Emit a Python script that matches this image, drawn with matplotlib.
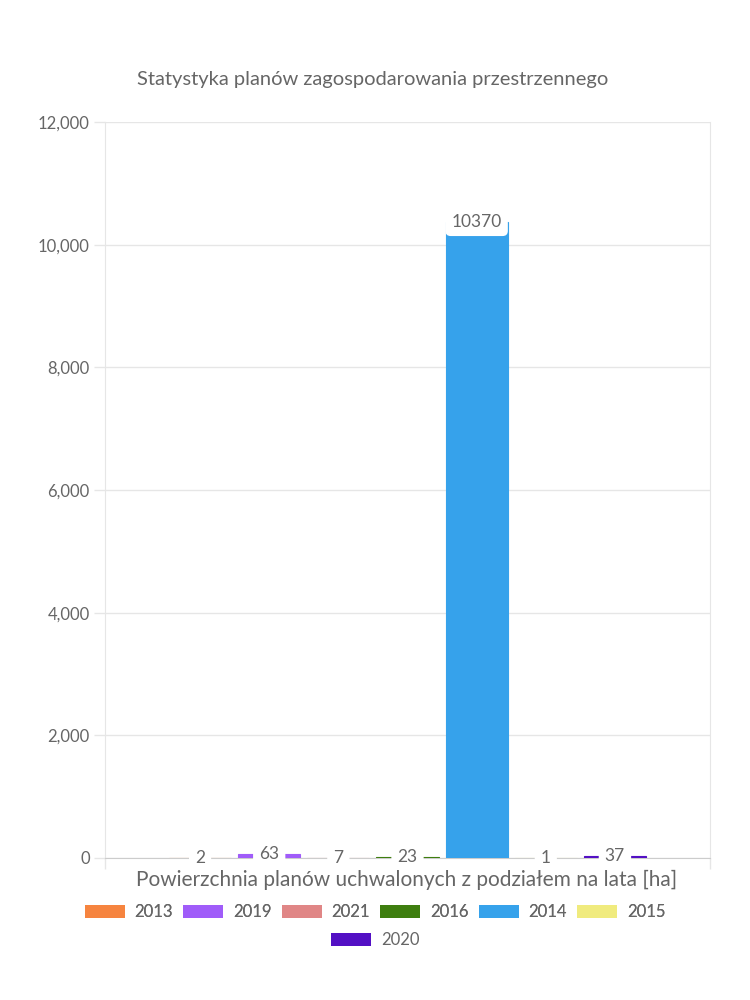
import numpy as np
import matplotlib
matplotlib.use("Agg")
import matplotlib.pyplot as plt
from matplotlib.patches import Patch
from matplotlib.ticker import FuncFormatter

# data
years = ["2013", "2019", "2021", "2016", "2014", "2015", "2020"]
values = [2, 63, 7, 23, 10370, 1, 37]
colors = ["#f6843f", "#a05cf9", "#e08686", "#3e7e0f", "#36a2eb", "#f0eb7e", "#5310c4"]
title = "Statystyka planów zagospodarowania przestrzennego"
xlabel = "Powierzchnia planów uchwalonych z podziałem na lata [ha]"
yticks = [0, 2000, 4000, 6000, 8000, 10000, 12000]

plt.rcParams["font.family"] = ["Lato", "DejaVu Sans"]
txt = "#666666"
grid = "#e6e6e6"

fig = plt.figure(figsize=(7.5, 10), dpi=100)
ax = fig.add_axes([105 / 750, 1 - 858 / 1000, 605 / 750, 736 / 1000])

# grouped bars in a single category (chart.js style: 0.8 category, 0.9 bar)
n = len(values)
slot = 0.8 / n
xs = -0.4 + slot * (np.arange(n) + 0.5)
ax.bar(xs, values, width=slot * 0.9, color=colors, edgecolor=colors, linewidth=0.8, zorder=3)

for x, v in zip(xs, values):
    ax.text(x, v, str(v), ha="center", va="center", fontsize=12.5, color=txt, zorder=5,
            bbox=dict(boxstyle="round,pad=0.35,rounding_size=0.3", fc="white", ec="none"))

ax.set_xlim(-0.5, 0.5)
ax.set_ylim(0, 12000)
ax.set_yticks(yticks)
ax.yaxis.set_major_formatter(FuncFormatter(lambda v, p: f"{int(v):,}"))
ax.set_xticks([-0.5, 0.5])
ax.set_xticklabels([])
ax.tick_params(axis="y", colors=grid, labelcolor=txt, labelsize=12, length=8, width=1, pad=3)
ax.tick_params(axis="x", colors=grid, length=8, width=1)
ax.grid(axis="y", color=grid, lw=1, zorder=0)
for s in ["left", "right", "bottom"]:
    ax.spines[s].set_color(grid)
ax.spines["bottom"].set_color("#cccccc")
ax.spines["top"].set_visible(False)
ax.set_axisbelow(True)

fig.text(373 / 750, 1 - 80 / 1000, title, ha="center", va="center", fontsize=14.5, color=txt)
fig.text(407 / 750, 1 - 880 / 1000, xlabel, ha="center", va="center", fontsize=15, color=txt)

handles = [Patch(facecolor=c, edgecolor="none") for c in colors]
leg_kw = dict(frameon=False, fontsize=12, labelcolor=txt, handlelength=2.4, handleheight=0.85,
              handletextpad=0.6, columnspacing=0.6, borderpad=0, borderaxespad=0)
leg1 = fig.legend(handles[:6], years[:6], ncol=6, loc="center",
                  bbox_to_anchor=(0.5, 1 - 912 / 1000), **leg_kw)
fig.add_artist(leg1)
fig.legend(handles[6:], years[6:], ncol=1, loc="center",
           bbox_to_anchor=(0.5, 1 - 940 / 1000), **leg_kw)

fig.savefig("out.png", dpi=100, facecolor="white")
